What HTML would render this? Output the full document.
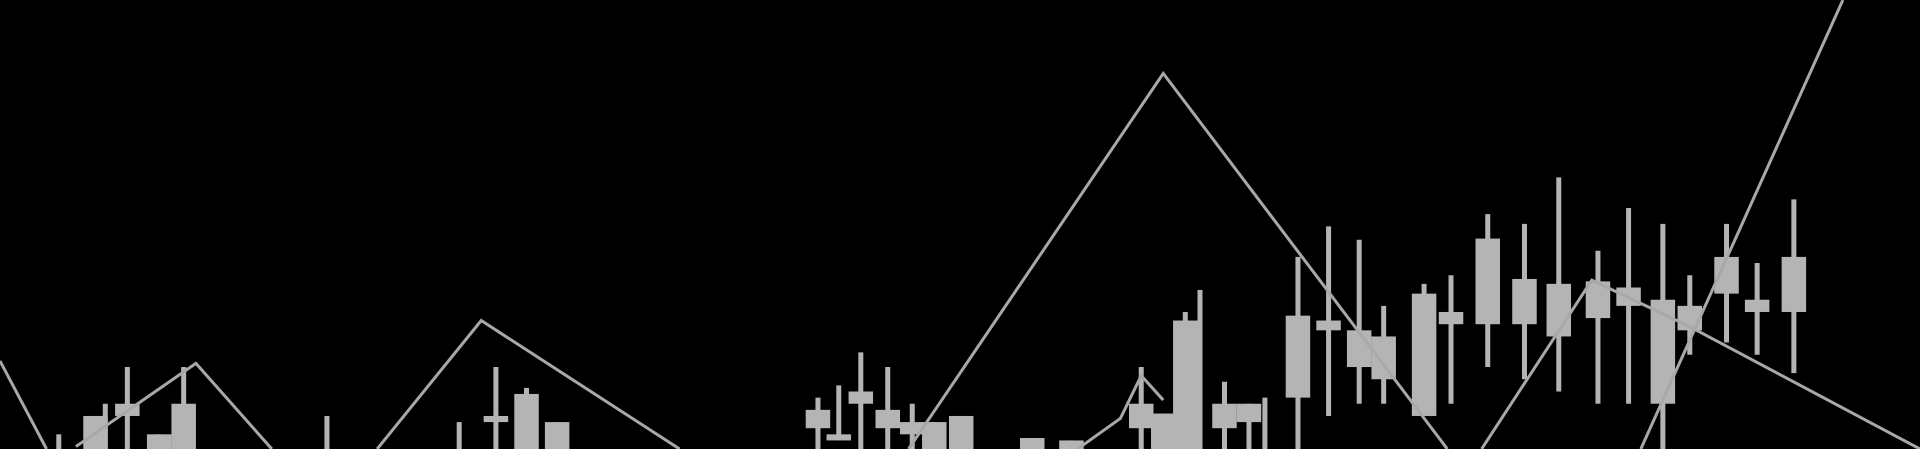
<!DOCTYPE html>
<html><head><meta charset="utf-8"><style>
html,body{margin:0;padding:0;background:#000;width:1920px;height:449px;overflow:hidden}
svg{display:block}
</style></head><body>
<svg id="chart" width="1920" height="449" viewBox="0 0 1920 449" xmlns="http://www.w3.org/2000/svg">
<rect x="0" y="0" width="1920" height="449" fill="#000"/>
<g id="candles"></g>
<g id="lines"></g>
</svg>
<script>
// candle positions (time units) and OHLC-like values
const candleX = [48,78,86,104,130,150,267,375,405,430,455,668,685,703,725,745,763,785,843,875,932,950,968,980,1000,1020,1033,1060,1085,1110,1130,1163,1185,1215,1245,1273,1305,1330,1358,1380,1410,1435,1465];
const candleOpen = [0,0,0,27,0,0,0,0,22,0,0,17,7,37,17,12,0,0,0,0,17,0,0,0,17,22,0,42,97,67,57,27,102,102,102,92,107,117,37,97,127,112,112];
const candleClose = [0,27,0,37,12,37,0,0,27,45,22,32,12,47,32,22,22,27,9,7,37,29,105,0,37,37,0,109,105,97,92,127,112,172,139,135,137,132,122,117,157,122,157];
const candleHigh = [12,27,37,67,12,67,27,22,67,50,22,42,52,79,67,37,22,27,9,7,67,29,112,130,55,37,42,157,182,171,117,135,142,192,184,222,162,197,184,142,184,152,204];
const candleLow = [0,0,0,0,0,0,0,0,0,0,0,0,7,0,0,0,0,0,0,0,0,0,0,0,0,0,0,0,27,37,37,27,37,67,57,47,37,37,0,77,87,77,62];
// line series
const lineAX = [0,38];
const lineAY = [72,0];
const lineBX = [62,160,222];
const lineBY = [2,70,0];
const lineCX = [308,393,555];
const lineCY = [0,105,0];
const lineDX = [742,950,1182];
const lineDY = [0,307,0];
const lineEX = [880,915,932,950];
const lineEY = [0,25,60,40];
const lineFX = [1210,1300,1380,1568];
const lineFY = [0,138,100,0];
const lineGX = [1340,1505];
const lineGY = [0,367];

const sx = v => v * 1920/1568;
const sy = v => 449 - v * 449/367;
const NS = 'http://www.w3.org/2000/svg';
const cg = document.getElementById('candles');
const bw = 20;
for (let i = 0; i < candleX.length; i++) {
  const x = sx(candleX[i]);
  const w = document.createElementNS(NS,'line');
  
  
  w.setAttribute('x1', x); w.setAttribute('x2', x);
  w.setAttribute('y1', sy(candleHigh[i])); w.setAttribute('y2', sy(candleLow[i]));
  w.setAttribute('stroke', '#b4b4b4'); w.setAttribute('stroke-width', 5);
  cg.appendChild(w);
  const top = Math.max(candleOpen[i], candleClose[i]), bot = Math.min(candleOpen[i], candleClose[i]);
  const b = document.createElementNS(NS,'rect');
  
  
  b.setAttribute('x', x - sx(bw)/2); b.setAttribute('width', sx(bw));
  b.setAttribute('y', sy(top)); b.setAttribute('height', Math.max(3, sy(bot) - sy(top)));
  b.setAttribute('fill', '#b4b4b4');
  cg.appendChild(b);
}
const lg = document.getElementById('lines');
[[lineAX,lineAY],[lineBX,lineBY],[lineCX,lineCY],[lineDX,lineDY],[lineEX,lineEY],[lineFX,lineFY],[lineGX,lineGY]].forEach(([xs,ys]) => {
  const p = document.createElementNS(NS,'polyline');
  
  
  p.setAttribute('points', xs.map((x,i) => sx(x)+','+sy(ys[i])).join(' '));
  p.setAttribute('fill', 'none'); p.setAttribute('stroke', '#a8a8a8'); p.setAttribute('stroke-width', 3);
  lg.appendChild(p);
});
</script>
</body></html>
